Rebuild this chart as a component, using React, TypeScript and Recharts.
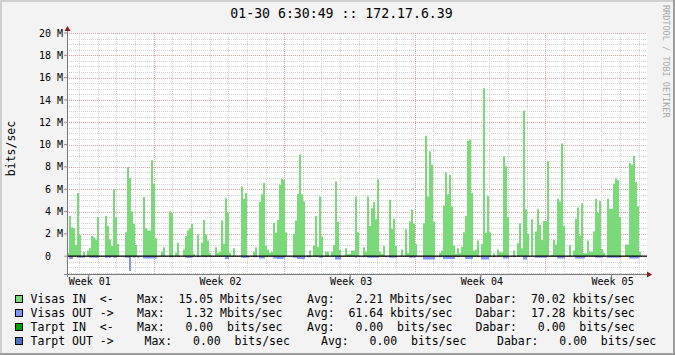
import React from 'react';
import { ComposedChart, Area, XAxis, YAxis, CartesianGrid, ReferenceLine } from 'recharts';

const MONO = '"DejaVu Sans Mono", monospace';

// Visas IN (Mbit/s), one value per column step
const visasIn = [
  0.3, 3.6, 2.6, 2.5, 1.0, 5.65, 1.9, 0, 0.4, 0,
  0.5, 0.7, 1.8, 1.7, 1.5, 3.5, 0, 0, 0, 3.6,
  2.7, 1.5, 0.9, 6.0, 3.5, 1.1, 0, 0, 0, 2.15,
  8.0, 7.0, 4.0, 2.9, 1.0, 0, 0, 0, 5.3, 2.5,
  2.3, 2.3, 8.6, 6.5, 1.6, 0, 0, 0.4, 0.8, 0,
  0, 4.0, 3.85, 0, 0.3, 1.2, 0, 0, 0.6, 1.8,
  2.3, 2.5, 2.9, 0.2, 0, 1.95, 0, 1.2, 3.25, 1.95,
  1.4, 0.25, 0, 0, 0.8, 0.3, 0.4, 3.2, 1.1, 5.2,
  3.9, 0.3, 0, 0.7, 0, 0, 0, 6.25, 5.15, 5.65,
  0, 0, 0, 0.4, 0.8, 0, 4.85, 5.55, 6.55, 0.9,
  0.6, 0.3, 0.4, 3.0, 2.1, 3.25, 6.4, 6.95, 6.85, 2.15,
  0, 0, 0, 2.0, 3.2, 5.6, 9.1, 5.55, 4.9, 0,
  0.1, 0.5, 0, 0.95, 3.6, 0.85, 5.35, 1.75, 0, 0.4,
  0.4, 0, 0.4, 1.0, 6.7, 3.05, 0.55, 0, 0, 0.7,
  0.2, 0.2, 0.5, 0.5, 5.35, 2.15, 0, 0, 0.8, 0.4,
  5.35, 2.7, 4.3, 4.85, 3.3, 6.9, 0.4, 0.2, 0.9, 0,
  0, 5.05, 2.45, 3.35, 0.9, 0, 0, 0.6, 0, 2.4,
  0.3, 3.1, 4.15, 2.9, 1.1, 0, 0, 0, 2.95, 10.8,
  5.35, 9.4, 8.2, 3.1, 0, 0, 0.3, 0.5, 4.55, 7.5,
  5.55, 7.3, 4.45, 0.95, 0.2, 0.7, 0.25, 0.85, 2.15, 3.6,
  10.35, 10.45, 5.65, 0.5, 0.6, 1.4, 0, 1.1, 15.05, 2.1,
  5.4, 2.15, 0, 0.25, 0, 0.6, 0.35, 0.35, 8.95, 8.05,
  3.5, 0, 0, 0.5, 0, 1.15, 2.95, 0.7, 13.05, 4.2,
  2.0, 0, 3.3, 0, 2.2, 4.2, 2.8, 1.45, 3.15, 3.15,
  8.5, 0, 0.1, 1.45, 1.05, 5.15, 4.9, 10.1, 2.7, 0,
  0, 1.0, 0, 0.5, 3.35, 4.35, 1.85, 4.75, 0.25, 0.25,
  1.4, 0.4, 0.4, 2.2, 5.15, 3.9, 4.95, 0.65, 0.3, 0,
  5.15, 4.25, 4.25, 6.5, 6.95, 6.8, 3.5, 0, 0, 1.05,
  1.05, 8.35, 8.2, 9.0, 6.65, 4.45, 0.4, 0, 0, 0,
];

// Visas OUT (Mbit/s), drawn below zero
const visasOut = [
  0, -0.25, -0.25, 0, 0, -0.15, -0.15, -0.15, -0.15, 0,
  0, -0.15, -0.15, -0.15, -0.15, -0.15, 0, 0, 0, -0.15,
  -0.15, -0.15, 0, -0.15, -0.15, 0, 0, 0, 0, -0.15,
  -0.15, -1.32, 0, -0.15, 0, -0.15, 0, 0, -0.2, -0.2,
  -0.2, -0.2, -0.2, -0.2, -0.2, 0, 0, 0, 0, 0,
  0, -0.1, -0.1, 0, 0, -0.1, 0, 0, 0, -0.15,
  -0.15, -0.15, -0.15, 0, 0, -0.1, 0, 0, 0, -0.1,
  0, 0, 0, 0, 0, 0, 0, 0, 0, -0.25,
  -0.25, 0, -0.1, 0, 0, 0, 0, -0.15, -0.15, -0.15,
  -0.15, 0, 0, -0.1, -0.1, 0, -0.2, -0.2, -0.2, 0,
  0, 0, 0, -0.2, -0.2, -0.25, -0.25, -0.25, -0.2, 0,
  0, 0, 0, -0.15, -0.15, -0.25, -0.25, -0.25, -0.25, 0,
  -0.1, -0.1, 0, 0, 0, 0, -0.15, -0.15, 0, 0,
  0, 0, 0, 0, -0.3, -0.3, -0.3, 0, 0, 0,
  0, 0, 0, 0, -0.15, 0, 0, 0, -0.1, 0,
  -0.15, -0.15, -0.15, -0.15, -0.15, -0.15, 0, 0, 0, -0.1,
  0, -0.15, -0.15, -0.15, -0.15, 0, 0, 0, 0, 0,
  0, -0.15, -0.15, -0.15, 0, 0, 0, 0, -0.3, -0.3,
  -0.3, -0.3, -0.3, -0.3, 0, 0, -0.1, 0, -0.25, -0.25,
  -0.25, -0.25, -0.25, -0.25, 0, -0.1, 0, 0, 0, -0.25,
  -0.25, -0.25, -0.25, 0, 0, -0.1, 0, -0.3, -0.3, -0.3,
  -0.3, 0, 0, -0.1, 0, 0, 0, 0, -0.2, -0.2,
  -0.2, 0, 0, -0.1, 0, 0, 0, 0, -0.3, -0.3,
  0, 0, 0, 0, -0.15, -0.15, -0.15, -0.15, -0.15, -0.15,
  0, 0, 0, 0, 0, -0.2, -0.2, -0.2, -0.2, 0,
  0, 0, 0, 0, -0.2, -0.2, -0.2, -0.2, -0.2, 0,
  0, 0, 0, 0, -0.15, -0.15, -0.15, -0.15, 0, 0,
  -0.15, -0.15, -0.15, -0.15, -0.15, -0.15, -0.15, 0, 0, 0,
  0, -0.2, -0.2, -0.2, -0.2, -0.2, 0, 0, 0, 0,
];

const yTicks = [0, 2, 4, 6, 8, 10, 12, 14, 16, 18, 20];
const yTickLabels = ['0  ', '2 M', '4 M', '6 M', '8 M', '10 M', '12 M', '14 M', '16 M', '18 M', '20 M'];
const weekTicks = [10.9, 76.25, 141.6, 206.95, 272.3];
const weekLabels = ['Week 01', 'Week 02', 'Week 03', 'Week 04', 'Week 05'];

const legendNames = ['Visas IN  <-', 'Visas OUT ->', 'Tarpt IN  <-', 'Tarpt OUT ->'];
const legendColors = ['#7ada7a', '#8294f6', '#00a000', '#4f6fc0'];
const maxValues = [15.05, 1.32, 0.0, 0.0];
const maxUnits = ['M', 'M', ' ', ' '];
const avgValues = [2.21, 61.64, 0.0, 0.0];
const avgUnits = ['M', 'k', ' ', ' '];
const dabarValues = [70.02, 17.28, 0.0, 0.0];
const dabarUnits = ['k', 'k', ' ', ' '];

const TITLE = '01-30 6:30:49 :: 172.17.6.39';
const WATERMARK = 'RRDTOOL / TOBI OETIKER';
const Y_LABEL = 'bits/sec';

const Y_DOMAIN: [number, number] = [-1.6, 20];
const X_DOMAIN: [number, number] = [0, 290];

// grid positions (chart data space)
const minorY: number[] = [];
for (let v = -1.5; v <= 20.001; v += 0.5) minorY.push(Math.round(v * 10) / 10);
const majorY = yTicks;
const dayLines: number[] = [];
for (let k = 0; k <= 30; k++) dayLines.push(6 + 9.325 * k);
const weekLines = [4, 11, 18, 25].map((k) => 6 + 9.325 * k);

const table = visasIn.map((v, i) => ({ i, vin: v, vout: visasOut[i] }));
table.push({ i: visasIn.length, vin: 0, vout: 0 });

const fmt = (v: number) => v.toFixed(2).padStart(6, ' ');

// map values through the axis scale handed to the grid generators
const yGen = (values: number[]) => (props: any) => {
  const { yAxis, offset } = props;
  if (yAxis && typeof yAxis.scale === 'function') {
    return values.map((v) => Math.round(yAxis.scale(v)) + 0.5);
  }
  const t = offset.top, h = offset.height;
  return values.map((v) => Math.round(t + ((Y_DOMAIN[1] - v) / (Y_DOMAIN[1] - Y_DOMAIN[0])) * h) + 0.5);
};
const xGen = (values: number[]) => (props: any) => {
  const { xAxis, offset } = props;
  if (xAxis && typeof xAxis.scale === 'function') {
    return values.map((v) => Math.round(xAxis.scale(v)) + 0.5);
  }
  const l = offset.left, w = offset.width;
  return values.map((v) => Math.round(l + ((v - X_DOMAIN[0]) / (X_DOMAIN[1] - X_DOMAIN[0])) * w) + 0.5);
};

const YTick = (props: any) => {
  const { x, y, index } = props;
  return (
    <text x={x + 1} y={y + 3.6} textAnchor="end" fontFamily={MONO} fontSize={10} fill="#000" xmlSpace="preserve" style={{ whiteSpace: 'pre' }}>
      {yTickLabels[index]}
    </text>
  );
};

const WeekTick = (props: any) => {
  const { x, index } = props;
  return (
    <text x={x + 1} y={285} textAnchor="middle" fontFamily={MONO} fontSize={10} fill="#000">
      {weekLabels[index]}
    </text>
  );
};

const maxX = [137, 137, 137, 144.5];
const avgX = [307, 307, 307, 321];
const dabX = [475.5, 475.5, 475.5, 497];

export default function App() {
  return (
    <div style={{ position: 'absolute', left: 0, top: 0, width: 675, height: 355, background: '#f3f3f3', overflow: 'hidden' }}>
      <ComposedChart width={675} height={355} data={table} margin={{ top: 33, right: 28, bottom: 61, left: 0 }}>
        <CartesianGrid
          xAxisId="main"
          yAxisId="main"
          fill="#ffffff"
          fillOpacity={1}
          stroke="#d2d2d2"
          strokeDasharray="1 1"
          horizontalCoordinatesGenerator={yGen(minorY)}
          verticalCoordinatesGenerator={xGen(dayLines)}
        />
        <CartesianGrid
          xAxisId="main"
          yAxisId="main"
          stroke="#e0a0a0"
          strokeDasharray="1 1"
          horizontalCoordinatesGenerator={yGen(majorY)}
          verticalCoordinatesGenerator={xGen(weekLines)}
        />
        <XAxis
          xAxisId="main"
          type="number"
          dataKey="i"
          domain={X_DOMAIN}
          ticks={weekTicks}
          allowDataOverflow
          height={20}
          axisLine={false}
          tickSize={3}
          tickMargin={2}
          tickLine={{ stroke: '#777' }}
          tick={<WeekTick />}
          interval={0}
        />
        <YAxis
          yAxisId="main"
          type="number"
          domain={Y_DOMAIN}
          ticks={yTicks}
          allowDataOverflow
          width={67}
          axisLine={false}
          tickSize={3}
          tickMargin={2}
          tickLine={{ stroke: '#c08080' }}
          tick={<YTick />}
          interval={0}
        />
        <Area
          xAxisId="main"
          yAxisId="main"
          type="stepAfter"
          dataKey="vin"
          baseValue={0}
          fill="#7ada7a"
          fillOpacity={1}
          stroke="none"
          dot={false}
          activeDot={false}
          isAnimationActive={false}
        />
        <Area
          xAxisId="main"
          yAxisId="main"
          type="stepAfter"
          dataKey="vout"
          baseValue={0}
          fill="#8294f6"
          fillOpacity={1}
          stroke="none"
          dot={false}
          activeDot={false}
          isAnimationActive={false}
        />
        <ReferenceLine xAxisId="main" yAxisId="main" y={0} stroke="#000" strokeWidth={1.3} />
      </ComposedChart>

      <svg width={675} height={355} style={{ position: 'absolute', left: 0, top: 0, pointerEvents: 'none' }}>
        {/* frame shading */}
        <line x1={0} y1={1} x2={675} y2={1} stroke="#cfcfcf" strokeWidth={2} />
        <line x1={1} y1={0} x2={1} y2={355} stroke="#cfcfcf" strokeWidth={2} />
        <line x1={0} y1={354} x2={675} y2={354} stroke="#9c9c9c" strokeWidth={2} />
        <line x1={674} y1={0} x2={674} y2={355} stroke="#9c9c9c" strokeWidth={2} />

        <text x={341.5} y={18.3} textAnchor="middle" fontFamily={MONO} fontSize={13.2} fill="#000">{TITLE}</text>
        <text x={0} y={0} transform="translate(663,5) rotate(90)" fontFamily={MONO} fontSize={8.5} fill="#a8a8a8">
          {WATERMARK}
        </text>
        <text x={0} y={0} transform="translate(15,148.5) rotate(-90)" textAnchor="middle" fontFamily={MONO} fontSize={11.5} fill="#000">
          {Y_LABEL}
        </text>

        {/* axes */}
        <line x1={67.5} y1={28} x2={67.5} y2={277} stroke="#7a7a7a" strokeWidth={1} />
        <line x1={64} y1={274.5} x2={648} y2={274.5} stroke="#7a7a7a" strokeWidth={1} />
        <polygon points="64.5,31 70.5,31 67.5,26" fill="#8b1a1a" />
        <polygon points="647,271.5 647,277.5 652,274.5" fill="#8b1a1a" />

        {/* legend */}
        {legendNames.map((name, r) => {
          const base = 303.3 + r * 14;
          const ts = { whiteSpace: 'pre' as const };
          return (
            <g key={name} fontFamily={MONO} fontSize={11.5} fill="#000">
              <rect x={15.5} y={base - 7.8} width={7} height={7} fill={legendColors[r]} stroke="#000" strokeWidth={1} />
              <text x={30.5} y={base} xmlSpace="preserve" style={ts}>{name}</text>
              <text x={maxX[r]} y={base} xmlSpace="preserve" style={ts}>{`Max: ${fmt(maxValues[r])} ${maxUnits[r]}bits/sec`}</text>
              <text x={avgX[r]} y={base} xmlSpace="preserve" style={ts}>{`Avg: ${fmt(avgValues[r])} ${avgUnits[r]}bits/sec`}</text>
              <text x={dabX[r]} y={base} xmlSpace="preserve" style={ts}>{`Dabar: ${fmt(dabarValues[r])} ${dabarUnits[r]}bits/sec`}</text>
            </g>
          );
        })}
      </svg>
    </div>
  );
}
